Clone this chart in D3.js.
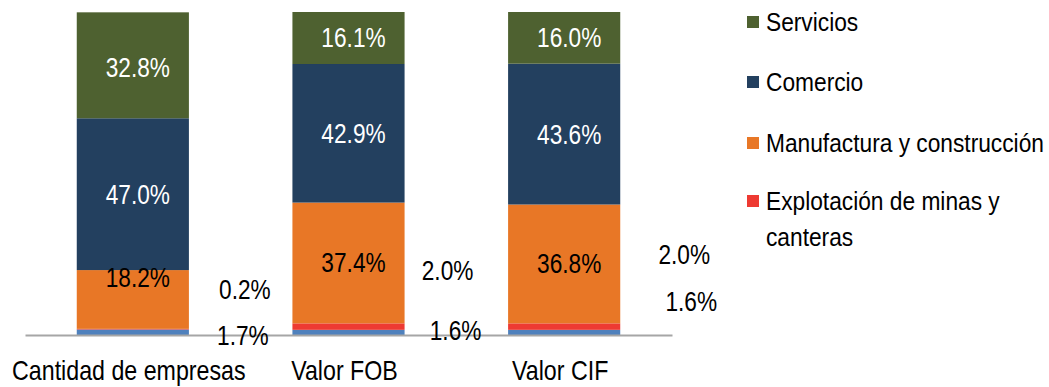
<!DOCTYPE html>
<html>
<head>
<meta charset="utf-8">
<script src="https://cdn.jsdelivr.net/npm/d3@7"></script>
<style>
  html, body { margin: 0; padding: 0; background: #fff; }
  svg { display: block; }
  text { font-family: "Liberation Sans", Arial, sans-serif; }
</style>
</head>
<body>
<svg id="chart" width="1049" height="387"></svg>
<script>
// Categories on the x axis
const categories = ["Cantidad de empresas", "Valor FOB", "Valor CIF"];

// Sector shares (%), bottom of the stack first
const agro        = [1.7, 1.6, 1.6];
const mineria     = [0.2, 2.0, 2.0];
const manufactura = [18.2, 37.4, 36.8];
const comercio    = [47.0, 42.9, 43.6];
const servicios   = [32.8, 16.1, 16.0];

const seriesNames = ["Agropecuario", "Explotación de minas y canteras", "Manufactura y construcción", "Comercio", "Servicios"];
const seriesValues = [agro, mineria, manufactura, comercio, servicios];
const seriesColors = ["#4F81BD", "#EE3A32", "#E87726", "#23405F", "#4E6130"];

// Legend entries, top to bottom
const legendNames = ["Servicios", "Comercio", "Manufactura y construcción", "Explotación de minas y\ncanteras"];
const legendColors = ["#4E6130", "#23405F", "#E87726", "#EE3A32"];

const svg = d3.select("#chart");

const x = d3.scaleBand().domain(categories).range([25, 672]).paddingInner(0.48).paddingOuter(0.24);
const y = d3.scaleLinear().domain([0, 100]).range([335, 12]);

// Build stack table
const table = categories.map((c, i) => {
  const row = { cat: c };
  seriesNames.forEach((s, k) => row[s] = seriesValues[k][i]);
  return row;
});
const stack = d3.stack().keys(seriesNames)(table);

const g = svg.append("g");
stack.forEach((layer, k) => {
  g.selectAll(null).data(layer).enter().append("rect")
    .attr("x", d => x(d.data.cat))
    .attr("width", x.bandwidth())
    .attr("y", d => y(d[1]))
    .attr("height", d => y(d[0]) - y(d[1]))
    .attr("fill", seriesColors[k]);
});

// Axis baseline and category names
const axis = svg.append("g").attr("transform", `translate(0,${y(0)})`)
  .call(d3.axisBottom(x).tickSize(0).tickPadding(26));
axis.select(".domain").attr("stroke", "#A6A6A6").attr("stroke-width", 2);
axis.selectAll("text")
  .attr("font-size", 27).attr("fill", "#000")
  .attr("font-family", "'Liberation Sans', Arial, sans-serif")
  .attr("transform", "translate(-4,0) scale(0.86,1)");

// Places a horizontally compressed text at (px, py)
function label(px, py, str, size, color, anchor, sx) {
  return svg.append("g").attr("transform", `translate(${px},${py}) scale(${sx},1)`)
    .append("text")
    .attr("dy", "0.35em")
    .attr("text-anchor", anchor)
    .attr("font-size", size)
    .attr("fill", color)
    .text(str);
}

// Labels inside the bars for the three large sectors
const inside = [
  { k: 2, color: "#000", dy: [-22, 0, 0] },
  { k: 3, color: "#fff", dy: [0, 0, 0] },
  { k: 4, color: "#fff", dy: [2, 0, 0] }
];
inside.forEach(o => {
  stack[o.k].forEach((d, i) => {
    label(x(d.data.cat) + x.bandwidth() / 2 + 5,
          (y(d[0]) + y(d[1])) / 2 + o.dy[i],
          d3.format(".1f")(seriesValues[o.k][i]) + "%", 27, o.color, "middle", 0.84);
  });
});

// Labels for the two thin segments, set beside each bar
const outside = [
  { vals: mineria, pos: [[56, 290], [43, 271], [64, 255]] },
  { vals: agro,    pos: [[54, 336], [51, 331], [71, 302]] }
];
outside.forEach(o => {
  categories.forEach((c, i) => {
    label(x(c) + x.bandwidth() + o.pos[i][0], o.pos[i][1],
          d3.format(".1f")(o.vals[i]) + "%", 27, "#000", "middle", 0.84);
  });
});

// Legend
const legendY = [22, 82, 143, 201];
legendNames.forEach((name, i) => {
  svg.append("rect")
    .attr("x", 747).attr("y", legendY[i] - 6)
    .attr("width", 12).attr("height", 12)
    .attr("fill", legendColors[i]);
  name.split("\n").forEach((line, j) => {
    label(766, legendY[i] + j * 36, line, 26, "#000", "start", 0.875);
  });
});
</script>
</body>
</html>
